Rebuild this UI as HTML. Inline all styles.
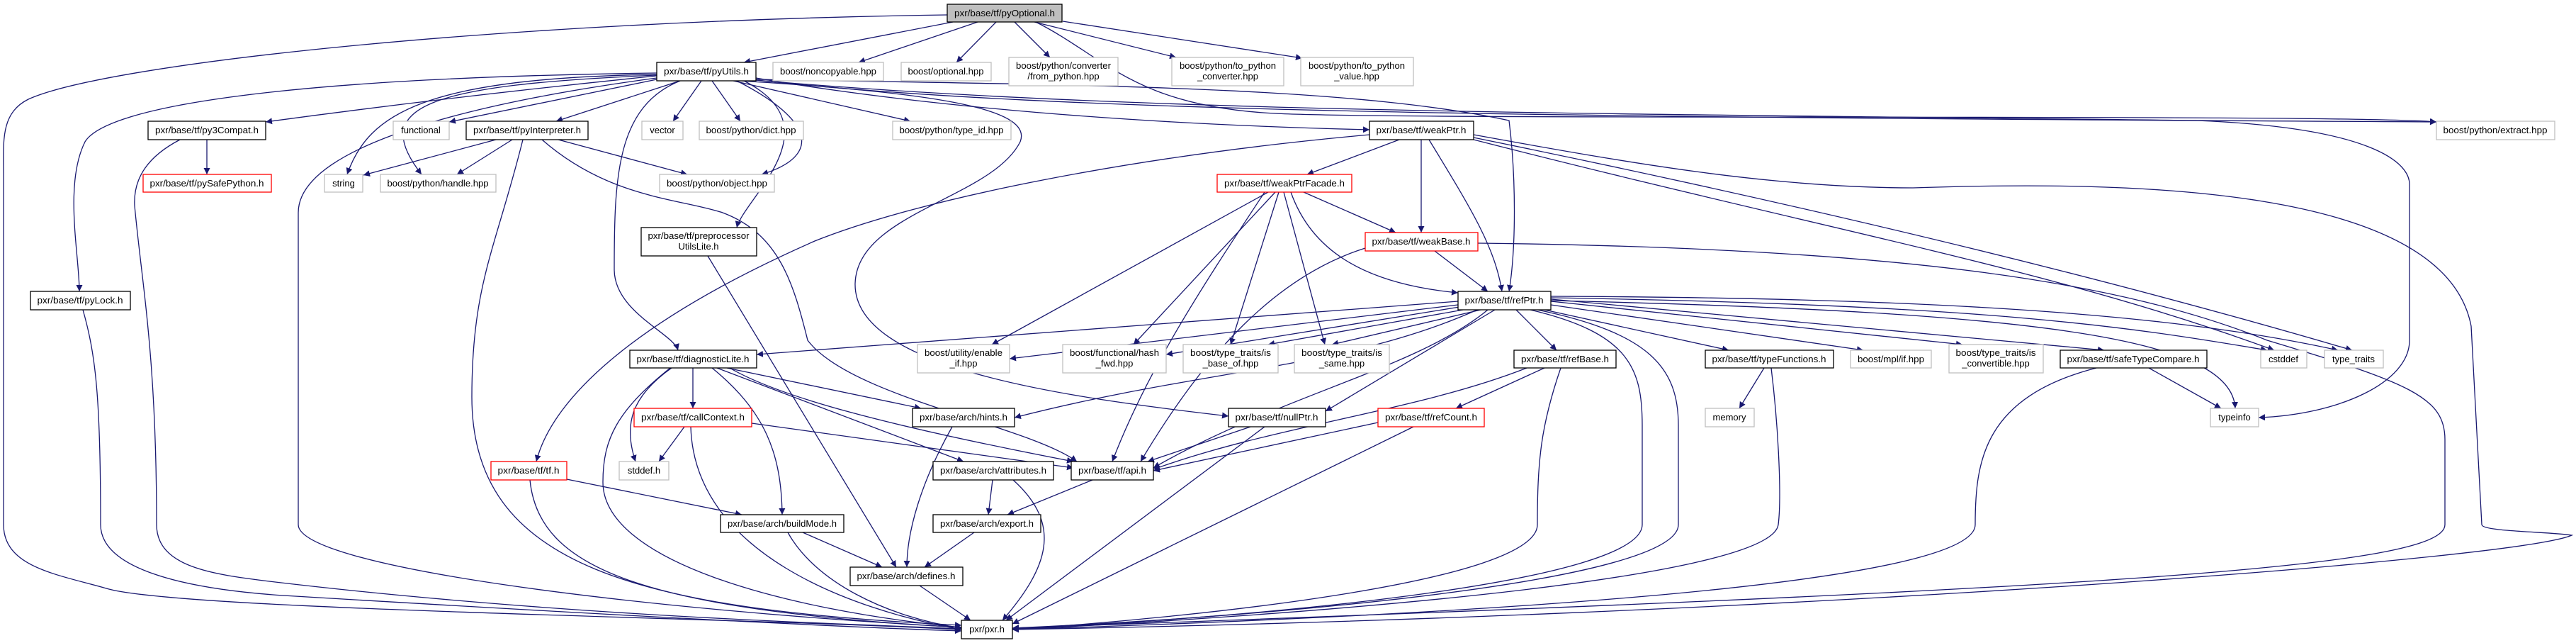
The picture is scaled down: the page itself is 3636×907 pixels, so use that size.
<!DOCTYPE html>
<html><head><meta charset="utf-8"><style>
html,body{margin:0;padding:0;background:#fff;}
svg{display:block;}
text{font-family:"Liberation Sans",Arial,sans-serif;font-size:13px;fill:#000;}
.e{fill:none;stroke:#191970;stroke-width:1.3;marker-end:url(#a);}
.n{fill:#fff;stroke:#000;stroke-width:1.3;}
.g{fill:#fff;stroke:#bfbfbf;stroke-width:1.3;}
.r{fill:#fff;stroke:#ff0000;stroke-width:1.3;}
</style></head><body>
<svg width="3636" height="907" viewBox="0 0 3636 907" xmlns="http://www.w3.org/2000/svg">
<defs><marker id="a" viewBox="0 0 10 10" refX="10" refY="5" markerWidth="9" markerHeight="9" markerUnits="userSpaceOnUse" orient="auto"><path d="M0,0 L10,5 L0,10 z" fill="#191970"/></marker></defs>
<g>
<!-- pyOptional edges -->
<path class="e" d="M1345,31 L1050,88"/>
<path class="e" d="M1380,31 L1212,88"/>
<path class="e" d="M1406,31 L1350,88"/>
<path class="e" d="M1432,31 L1482,81"/>
<path class="e" d="M1460,31 L1660,81"/>
<path class="e" d="M1500,30 L1838,82"/>
<path class="e" d="M1462,31 C1560,80 1600,150 1800,160 S3300,160 3439,172"/>
<path class="e" d="M1337,21 C700,30 150,90 40,140 C0,160 5,200 5,250 L5,740 C5,800 80,810 150,830 C250,860 1000,870 1357,888"/>
<!-- pyUtils edges -->
<path class="e" d="M927,107 C700,130 500,155 375,172"/>
<path class="e" d="M927,112 L634,172"/>
<path class="e" d="M960,114 L785,171"/>
<path class="e" d="M990,114 L950,171"/>
<path class="e" d="M1005,114 L1045,171"/>
<path class="e" d="M1035,114 L1285,171"/>
<path class="e" d="M1040,114 C1150,170 1160,220 1075,246"/>
<path class="e" d="M927,105 C600,110 520,160 490,246"/>
<path class="e" d="M927,106 C600,120 520,150 595,246"/>
<path class="e" d="M927,103 C400,110 150,150 120,200 C90,260 112,360 112,411"/>
<path class="e" d="M927,110 C700,140 421,200 421,300 L421,740 C421,800 900,860 1357,885"/>
<path class="e" d="M960,114 C870,150 867,250 867,380 C867,440 950,470 957,494"/>
<path class="e" d="M1050,114 C1180,180 1050,280 1040,321"/>
<path class="e" d="M1067,110 C1300,150 1600,175 1933,183"/>
<path class="e" d="M1067,112 C1500,120 1900,120 2130,170 C2140,250 2140,350 2130,411"/>
<path class="e" d="M1067,113 C1500,160 2200,165 3439,172"/>
<path class="e" d="M1067,113 C1600,160 2300,160 3100,170 C3350,180 3401,230 3401,260 L3401,480 C3401,540 3300,585 3188,589"/>
<path class="e" d="M1045,114 C1300,130 1460,150 1440,200 C1400,280 1210,300 1207,400 C1205,520 1500,560 1734,587"/>
<path class="e" d="M1933,190 C1600,220 1300,280 1150,340 C900,450 780,560 757,651"/>
<!-- pyInterpreter -->
<path class="e" d="M700,197 L513,247"/>
<path class="e" d="M723,197 L645,246"/>
<path class="e" d="M788,197 L970,246"/>
<path class="e" d="M738,197 C700,350 666,400 666,560 C666,800 900,860 1357,882"/>
<path class="e" d="M765,197 C860,280 960,280 1020,300 C1100,330 1120,400 1140,480 C1200,560 1450,600 1520,651"/>
<!-- py3Compat / pyLock -->
<path class="e" d="M292,197 L292,246"/>
<path class="e" d="M254,197 C210,220 188,250 190,290 C200,400 221,500 221,740 C221,800 300,810 380,820 C800,870 1200,880 1357,887"/>
<path class="e" d="M117,437 C135,500 142,560 142,740 C142,800 250,830 400,840 C900,870 1200,885 1357,890"/>
<path class="e" d="M999,361 L1265,800"/>
<!-- tf.h -->
<path class="e" d="M800,676 L1047,726"/>
<path class="e" d="M748,677 C760,800 900,860 1357,885"/>
<!-- diagnosticLite -->
<path class="e" d="M978,519 L978,576"/>
<path class="e" d="M948,519 C890,560 880,600 897,651"/>
<path class="e" d="M946,519 C870,580 851,620 851,680 C851,790 1100,860 1357,885"/>
<path class="e" d="M1026,519 L1300,576"/>
<path class="e" d="M1030,519 C1100,560 1250,600 1515,651"/>
<path class="e" d="M1012,519 L1360,651"/>
<path class="e" d="M1005,519 C1080,580 1103,640 1104,726"/>
<!-- callContext -->
<path class="e" d="M975,602 C980,780 1200,860 1357,888"/>
<path class="e" d="M966,602 L930,651"/>
<path class="e" d="M1061,597 L1515,660"/>
<!-- arch -->
<path class="e" d="M1344,602 C1300,680 1280,750 1280,800"/>
<path class="e" d="M1401,677 L1395,726"/>
<path class="e" d="M1430,677 C1500,740 1480,800 1415,875"/>
<path class="e" d="M1542,677 L1422,726"/>
<path class="e" d="M1375,751 L1305,800"/>
<path class="e" d="M1133,751 L1245,800"/>
<path class="e" d="M1112,751 C1150,820 1250,870 1357,886"/>
<path class="e" d="M1298,826 L1370,875"/>
<path class="e" d="M1765,602 L1620,651"/>
<path class="e" d="M1785,602 L1420,875"/>
<!-- weakPtr -->
<path class="e" d="M1975,197 L1845,246"/>
<path class="e" d="M2006,197 L2006,328"/>
<path class="e" d="M2017,197 C2080,300 2110,350 2120,411"/>
<path class="e" d="M2080,197 C2600,330 2900,380 3210,494"/>
<path class="e" d="M2080,194 C2600,300 3000,400 3320,494"/>
<path class="e" d="M2080,190 C2300,230 2500,265 2700,265 C3000,255 3450,260 3488,460 L3503,740 C3503,750 3600,750 3630,755 C3550,790 2500,870 1429,888"/>
<!-- weakPtrFacade -->
<path class="e" d="M1840,271 L1970,328"/>
<path class="e" d="M1822,271 C1850,350 1920,400 2058,413"/>
<path class="e" d="M1790,271 L1400,486"/>
<path class="e" d="M1800,271 L1600,486"/>
<path class="e" d="M1805,271 L1737,486"/>
<path class="e" d="M1812,271 L1870,486"/>
<path class="e" d="M1785,271 C1700,400 1620,520 1570,651"/>
<!-- weakBase -->
<path class="e" d="M2025,354 L2100,411"/>
<path class="e" d="M1927,350 C1800,390 1700,500 1610,651"/>
<path class="e" d="M2086,343 C2700,350 3000,400 3200,480 C3400,540 3451,560 3451,620 L3451,740 C3451,800 3000,830 1429,886"/>
<!-- refPtr -->
<path class="e" d="M2058,425 L1068,500"/>
<path class="e" d="M2058,430 L1425,506"/>
<path class="e" d="M2060,433 L1646,500"/>
<path class="e" d="M2065,437 L1790,486"/>
<path class="e" d="M2090,437 L1880,486"/>
<path class="e" d="M2085,437 C1900,520 1700,520 1432,589"/>
<path class="e" d="M2110,437 L1871,580"/>
<path class="e" d="M2100,437 C2000,520 1800,560 1628,660"/>
<path class="e" d="M2140,437 L2197,494"/>
<path class="e" d="M2180,437 L2440,494"/>
<path class="e" d="M2189,430 L2630,494"/>
<path class="e" d="M2189,425 L2770,486"/>
<path class="e" d="M2189,422 L2970,494"/>
<path class="e" d="M2189,420 C2800,430 3000,460 3200,494"/>
<path class="e" d="M2189,418 C2800,420 3100,450 3300,494"/>
<path class="e" d="M2189,424 C2900,440 3150,480 3155,576"/>
<path class="e" d="M2160,437 C2300,470 2318,520 2318,600 L2318,740 C2318,820 1800,870 1429,887"/>
<path class="e" d="M2170,437 C2330,470 2369,520 2369,600 L2369,740 C2369,820 1800,870 1429,886"/>
<!-- refBase / others -->
<path class="e" d="M2203,519 C2175,600 2170,650 2170,740 C2170,820 1700,870 1429,888"/>
<path class="e" d="M2180,519 L2055,576"/>
<path class="e" d="M2155,519 C2000,580 1800,600 1628,662"/>
<path class="e" d="M1945,596 L1628,664"/>
<path class="e" d="M1995,602 L1429,880"/>
<path class="e" d="M2490,519 L2455,576"/>
<path class="e" d="M2500,519 C2510,600 2515,700 2510,740 C2500,820 1800,870 1429,888"/>
<path class="e" d="M3033,519 L3135,576"/>
<path class="e" d="M2959,519 C2800,560 2788,650 2788,740 C2788,830 2000,870 1429,888"/>
</g>
<g>
<rect x="1337" y="6" width="162" height="25" fill="#bfbfbf" stroke="#000" stroke-width="1.3"/><text x="1418" y="23" text-anchor="middle" textLength="142" lengthAdjust="spacingAndGlyphs">pxr/base/tf/pyOptional.h</text>
<rect class="n" x="927" y="88" width="140" height="26"/><text x="997" y="105" text-anchor="middle" textLength="120" lengthAdjust="spacingAndGlyphs">pxr/base/tf/pyUtils.h</text>
<rect class="g" x="1091" y="88" width="156" height="26"/><text x="1169" y="105" text-anchor="middle" textLength="136" lengthAdjust="spacingAndGlyphs">boost/noncopyable.hpp</text>
<rect class="g" x="1272" y="88" width="127" height="26"/><text x="1335" y="105" text-anchor="middle" textLength="107" lengthAdjust="spacingAndGlyphs">boost/optional.hpp</text>
<rect class="g" x="1424" y="81" width="154" height="40"/><text x="1501" y="97" text-anchor="middle" textLength="134" lengthAdjust="spacingAndGlyphs">boost/python/converter</text><text x="1501" y="112" text-anchor="middle">/from_python.hpp</text>
<rect class="g" x="1654" y="81" width="158" height="40"/><text x="1733" y="97" text-anchor="middle" textLength="136" lengthAdjust="spacingAndGlyphs">boost/python/to_python</text><text x="1733" y="112" text-anchor="middle">_converter.hpp</text>
<rect class="g" x="1836" y="81" width="159" height="40"/><text x="1915" y="97" text-anchor="middle" textLength="136" lengthAdjust="spacingAndGlyphs">boost/python/to_python</text><text x="1915" y="112" text-anchor="middle">_value.hpp</text>
<rect class="n" x="209" y="171" width="166" height="26"/><text x="292" y="188" text-anchor="middle" textLength="146" lengthAdjust="spacingAndGlyphs">pxr/base/tf/py3Compat.h</text>
<rect class="g" x="555" y="171" width="79" height="26"/><text x="594" y="188" text-anchor="middle">functional</text>
<rect class="n" x="658" y="171" width="172" height="26"/><text x="744" y="188" text-anchor="middle" textLength="152" lengthAdjust="spacingAndGlyphs">pxr/base/tf/pyInterpreter.h</text>
<rect class="g" x="906" y="171" width="58" height="26"/><text x="935" y="188" text-anchor="middle">vector</text>
<rect class="g" x="987" y="171" width="147" height="26"/><text x="1060" y="188" text-anchor="middle" textLength="127" lengthAdjust="spacingAndGlyphs">boost/python/dict.hpp</text>
<rect class="g" x="1260" y="171" width="167" height="26"/><text x="1343" y="188" text-anchor="middle" textLength="147" lengthAdjust="spacingAndGlyphs">boost/python/type_id.hpp</text>
<rect class="n" x="1933" y="171" width="147" height="26"/><text x="2006" y="188" text-anchor="middle" textLength="127" lengthAdjust="spacingAndGlyphs">pxr/base/tf/weakPtr.h</text>
<rect class="g" x="3439" y="171" width="167" height="26"/><text x="3522" y="188" text-anchor="middle" textLength="147" lengthAdjust="spacingAndGlyphs">boost/python/extract.hpp</text>
<rect class="r" x="202" y="246" width="181" height="25"/><text x="292" y="263" text-anchor="middle" textLength="161" lengthAdjust="spacingAndGlyphs">pxr/base/tf/pySafePython.h</text>
<rect class="g" x="458" y="246" width="54" height="25"/><text x="485" y="263" text-anchor="middle">string</text>
<rect class="g" x="537" y="246" width="163" height="25"/><text x="618" y="263" text-anchor="middle" textLength="143" lengthAdjust="spacingAndGlyphs">boost/python/handle.hpp</text>
<rect class="g" x="931" y="246" width="162" height="25"/><text x="1012" y="263" text-anchor="middle" textLength="142" lengthAdjust="spacingAndGlyphs">boost/python/object.hpp</text>
<rect class="r" x="1718" y="246" width="190" height="25"/><text x="1813" y="263" text-anchor="middle" textLength="170" lengthAdjust="spacingAndGlyphs">pxr/base/tf/weakPtrFacade.h</text>
<rect class="n" x="905" y="321" width="163" height="40"/><text x="986" y="337" text-anchor="middle" textLength="143" lengthAdjust="spacingAndGlyphs">pxr/base/tf/preprocessor</text><text x="986" y="352" text-anchor="middle">UtilsLite.h</text>
<rect class="r" x="1927" y="328" width="159" height="26"/><text x="2006" y="345" text-anchor="middle" textLength="139" lengthAdjust="spacingAndGlyphs">pxr/base/tf/weakBase.h</text>
<rect class="n" x="43" y="411" width="141" height="26"/><text x="113" y="428" text-anchor="middle" textLength="121" lengthAdjust="spacingAndGlyphs">pxr/base/tf/pyLock.h</text>
<rect class="n" x="2058" y="411" width="131" height="26"/><text x="2123" y="428" text-anchor="middle" textLength="111" lengthAdjust="spacingAndGlyphs">pxr/base/tf/refPtr.h</text>
<rect class="g" x="1295" y="486" width="130" height="40"/><text x="1360" y="502" text-anchor="middle" textLength="110" lengthAdjust="spacingAndGlyphs">boost/utility/enable</text><text x="1360" y="517" text-anchor="middle">_if.hpp</text>
<rect class="g" x="1500" y="486" width="146" height="40"/><text x="1573" y="502" text-anchor="middle" textLength="126" lengthAdjust="spacingAndGlyphs">boost/functional/hash</text><text x="1573" y="517" text-anchor="middle">_fwd.hpp</text>
<rect class="g" x="1670" y="486" width="134" height="40"/><text x="1737" y="502" text-anchor="middle" textLength="114" lengthAdjust="spacingAndGlyphs">boost/type_traits/is</text><text x="1737" y="517" text-anchor="middle">_base_of.hpp</text>
<rect class="g" x="1827" y="486" width="134" height="40"/><text x="1894" y="502" text-anchor="middle" textLength="114" lengthAdjust="spacingAndGlyphs">boost/type_traits/is</text><text x="1894" y="517" text-anchor="middle">_same.hpp</text>
<rect class="g" x="2751" y="486" width="133" height="40"/><text x="2817" y="502" text-anchor="middle" textLength="113" lengthAdjust="spacingAndGlyphs">boost/type_traits/is</text><text x="2817" y="517" text-anchor="middle">_convertible.hpp</text>
<rect class="n" x="889" y="494" width="179" height="25"/><text x="978" y="511" text-anchor="middle" textLength="159" lengthAdjust="spacingAndGlyphs">pxr/base/tf/diagnosticLite.h</text>
<rect class="n" x="2137" y="494" width="144" height="25"/><text x="2209" y="511" text-anchor="middle" textLength="124" lengthAdjust="spacingAndGlyphs">pxr/base/tf/refBase.h</text>
<rect class="n" x="2407" y="494" width="181" height="25"/><text x="2497" y="511" text-anchor="middle" textLength="161" lengthAdjust="spacingAndGlyphs">pxr/base/tf/typeFunctions.h</text>
<rect class="g" x="2612" y="494" width="114" height="25"/><text x="2669" y="511" text-anchor="middle" textLength="94" lengthAdjust="spacingAndGlyphs">boost/mpl/if.hpp</text>
<rect class="n" x="2908" y="494" width="207" height="25"/><text x="3011" y="511" text-anchor="middle" textLength="187" lengthAdjust="spacingAndGlyphs">pxr/base/tf/safeTypeCompare.h</text>
<rect class="g" x="3191" y="494" width="65" height="25"/><text x="3223" y="511" text-anchor="middle">cstddef</text>
<rect class="g" x="3281" y="494" width="83" height="25"/><text x="3322" y="511" text-anchor="middle">type_traits</text>
<rect class="r" x="895" y="576" width="166" height="26"/><text x="978" y="593" text-anchor="middle" textLength="146" lengthAdjust="spacingAndGlyphs">pxr/base/tf/callContext.h</text>
<rect class="n" x="1288" y="576" width="144" height="26"/><text x="1360" y="593" text-anchor="middle" textLength="124" lengthAdjust="spacingAndGlyphs">pxr/base/arch/hints.h</text>
<rect class="n" x="1734" y="576" width="137" height="26"/><text x="1802" y="593" text-anchor="middle" textLength="117" lengthAdjust="spacingAndGlyphs">pxr/base/tf/nullPtr.h</text>
<rect class="r" x="1945" y="576" width="150" height="26"/><text x="2020" y="593" text-anchor="middle" textLength="130" lengthAdjust="spacingAndGlyphs">pxr/base/tf/refCount.h</text>
<rect class="g" x="2407" y="576" width="69" height="26"/><text x="2441" y="593" text-anchor="middle">memory</text>
<rect class="g" x="3120" y="576" width="68" height="26"/><text x="3154" y="593" text-anchor="middle">typeinfo</text>
<rect class="r" x="693" y="651" width="107" height="26"/><text x="746" y="668" text-anchor="middle" textLength="87" lengthAdjust="spacingAndGlyphs">pxr/base/tf/tf.h</text>
<rect class="g" x="874" y="651" width="70" height="26"/><text x="909" y="668" text-anchor="middle">stddef.h</text>
<rect class="n" x="1317" y="651" width="170" height="26"/><text x="1402" y="668" text-anchor="middle" textLength="150" lengthAdjust="spacingAndGlyphs">pxr/base/arch/attributes.h</text>
<rect class="n" x="1512" y="651" width="116" height="26"/><text x="1570" y="668" text-anchor="middle" textLength="96" lengthAdjust="spacingAndGlyphs">pxr/base/tf/api.h</text>
<rect class="n" x="1017" y="726" width="174" height="25"/><text x="1104" y="743" text-anchor="middle" textLength="154" lengthAdjust="spacingAndGlyphs">pxr/base/arch/buildMode.h</text>
<rect class="n" x="1317" y="726" width="152" height="25"/><text x="1393" y="743" text-anchor="middle" textLength="132" lengthAdjust="spacingAndGlyphs">pxr/base/arch/export.h</text>
<rect class="n" x="1200" y="800" width="159" height="26"/><text x="1279" y="817" text-anchor="middle" textLength="139" lengthAdjust="spacingAndGlyphs">pxr/base/arch/defines.h</text>
<rect class="n" x="1357" y="875" width="72" height="26"/><text x="1393" y="892" text-anchor="middle">pxr/pxr.h</text>
</g>
</svg>
</body></html>
